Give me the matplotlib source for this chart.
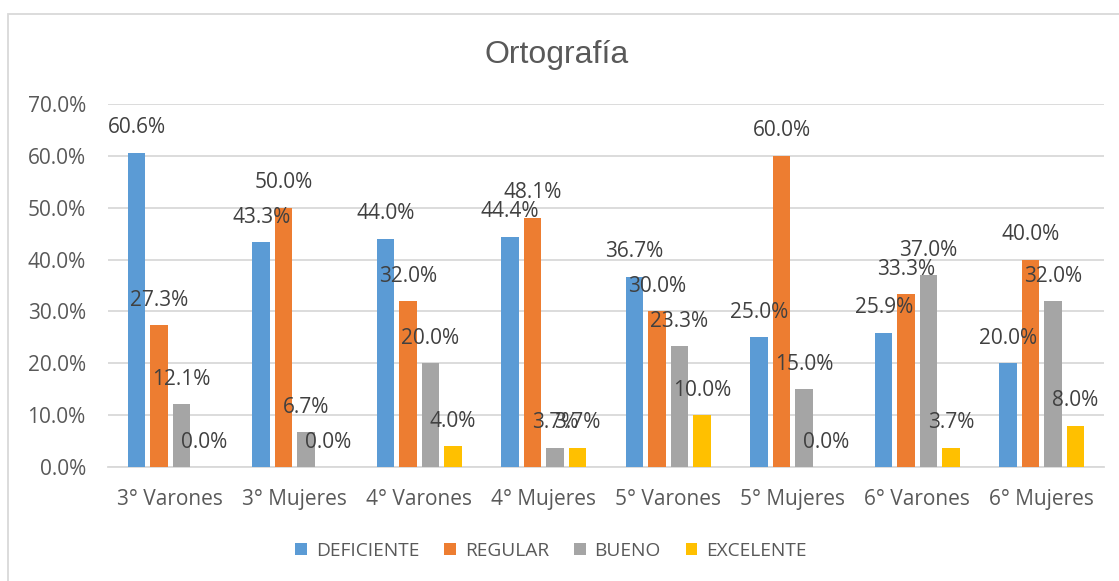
import matplotlib
matplotlib.use("Agg")
import matplotlib.pyplot as plt
import numpy as np
from matplotlib.patches import Rectangle, Patch

categories = ["3° Varones", "3° Mujeres", "4° Varones", "4° Mujeres",
              "5° Varones", "5° Mujeres", "6° Varones", "6° Mujeres"]
series_names = ["DEFICIENTE", "REGULAR", "BUENO", "EXCELENTE"]
deficiente = [60.6, 43.3, 44.0, 44.4, 36.7, 25.0, 25.9, 20.0]
regular = [27.3, 50.0, 32.0, 48.1, 30.0, 60.0, 33.3, 40.0]
bueno = [12.1, 6.7, 20.0, 3.7, 23.3, 15.0, 37.0, 32.0]
excelente = [0.0, 0.0, 4.0, 3.7, 10.0, 0.0, 3.7, 8.0]
yticks = [0, 10, 20, 30, 40, 50, 60, 70]
title = "Ortografía"

colors = ["#5B9BD5", "#ED7D31", "#A5A5A5", "#FFC000"]
font = "Open Sans"

W, H = 1119, 581
fig = plt.figure(figsize=(W / 100, H / 100), dpi=100)
ax = fig.add_axes([108 / W, 1 - 467 / H, (1104 - 108) / W, (467 - 104) / H])

x = np.arange(len(categories))
step = 0.18
width = 0.142
all_series = [deficiente, regular, bueno, excelente]
for i, (vals, col) in enumerate(zip(all_series, colors)):
    pos = x + (i - 1.5) * step
    bars = ax.bar(pos, vals, width=width, color=col, zorder=3)
    for b, v in zip(bars, vals):
        ax.annotate(f"{v:.1f}%", (b.get_x() + b.get_width() / 2, v),
                    xytext=(0, 18), textcoords="offset points",
                    ha="center", va="center", fontsize=15,
                    color="#404040", family=font, zorder=5)

ax.set_xlim(-0.5, len(categories) - 0.5)
ax.set_ylim(0, 70)
ax.set_yticks(yticks)
ax.set_yticklabels([f"{t:.1f}%" for t in yticks])
ax.set_xticks(x)
ax.set_xticklabels(categories)
for lab in ax.get_xticklabels() + ax.get_yticklabels():
    lab.set_family(font)
    lab.set_fontsize(15)
    lab.set_color("#595959")
ax.tick_params(axis="both", length=0)
ax.tick_params(axis="x", pad=16)
ax.tick_params(axis="y", pad=16)
ax.grid(axis="y", color="#D9D9D9", linewidth=1.3, zorder=0)
for s in ["top", "right", "left"]:
    ax.spines[s].set_visible(False)
ax.spines["bottom"].set_color("#D9D9D9")
ax.spines["bottom"].set_linewidth(1.3)

fig.text(557 / W, 1 - 55 / H, title, ha="center", va="center",
         fontsize=23, color="#595959", family="Liberation Sans")

handles = [Patch(facecolor=c, edgecolor="none") for c in colors]
leg = fig.legend(handles, series_names, loc="center", ncol=4,
                 bbox_to_anchor=(551 / W, 1 - 551 / H), frameon=False,
                 handlelength=0.62, handleheight=0.62, handletextpad=0.45,
                 columnspacing=1.3, prop={"family": font, "size": 13.8})
for t in leg.get_texts():
    t.set_color("#595959")

fig.patches.append(Rectangle((8 / W, -0.1), 1.2, (1 - 14 / H) + 0.1,
                             transform=fig.transFigure, fill=False,
                             edgecolor="#D9D9D9", linewidth=1.3))

fig.savefig("out.png", dpi=100)
